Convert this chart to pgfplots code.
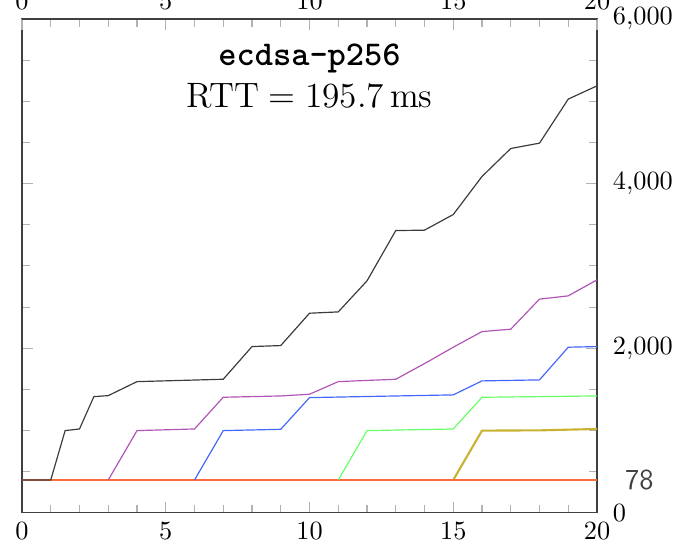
\documentclass[border=0pt]{standalone}
\usepackage{pgfplots}
\pgfplotsset{compat=1.18}
\definecolor{cblack}{HTML}{3C3C3C}
\definecolor{cpurple}{HTML}{B055B5}
\definecolor{cblue}{HTML}{4466FF}
\definecolor{cgreen}{HTML}{66FF66}
\definecolor{colive}{HTML}{C8B232}
\definecolor{cred}{HTML}{FF6A3C}
\pgfplotsset{
  common/.style={
    scale only axis, width=218.5pt, height=187.7pt,
    xmin=0, xmax=20, ymin=0, ymax=6000,
    xtick={0,5,10,15,20}, minor x tick num=4,
    major tick length=4.3pt, minor tick length=3.2pt,
    tick style={gray!60, line width=0.4pt},
    axis line style={black!75},
  }
}
\begin{document}
\begin{tikzpicture}
\begin{axis}[common, name=ax, clip mode=individual,
  ytick={0,2000,4000,6000}, minor y tick num=3,
  yticklabel pos=right,
  yticklabel style={xshift=2.5pt},
  every axis plot/.append style={line width=0.45pt},
]
\addplot[cred, line width=1.1pt] coordinates {(0,400) (20,400)};
\addplot[colive, line width=0.8pt] coordinates {(15,400) (16,1000) (18,1003) (20,1020)};
\addplot[cgreen] coordinates {(11,400) (12,1000) (15,1020) (16,1405) (20,1421)};
\addplot[cblue] coordinates {(6,400) (7,1000) (9,1016) (10,1401) (15,1434) (16,1604) (18,1616) (19,2013) (20,2021)};
\addplot[cpurple] coordinates {(3,400) (4,1000) (6,1020) (7,1405) (9,1421) (10,1442) (11,1595) (13,1624) (14,1814) (15,2013) (16,2203) (17,2232) (18,2597) (19,2637) (20,2831)};
\addplot[cblack] coordinates {(0,400) (1,400) (1.5,1000) (2,1020) (2.5,1413) (3,1425) (4,1595) (7,1624) (8,2021) (9,2033) (10,2426) (11,2442) (12,2819) (13,3430) (14,3435) (15,3625) (16,4087) (17,4427) (18,4492) (19,5027) (20,5188)};
\addplot[cred, line width=1.1pt] coordinates {(15,400) (20,400)};
\node[anchor=base, font=\ttfamily\bfseries\fontsize{13.2}{15}\selectfont] at (rel axis cs:0.5,0.906) {ecdsa-p256};
\node[anchor=base, font=\fontsize{13.4}{15}\selectfont] at (rel axis cs:0.5,0.821) {RTT\hspace{0.2778em}=\hspace{0.2778em}195.7\,ms};
\node[anchor=west, font=\sffamily\fontsize{11}{13}\selectfont, text=black!75, inner sep=0pt] at (axis cs:20,400) [xshift=10.5pt] {78};
\end{axis}
\begin{axis}[common,
  axis x line*=top, hide y axis,
]
\end{axis}
\pgfresetboundingbox
\path[use as bounding box] ([xshift=-8.36pt,yshift=-10.26pt]ax.south west) rectangle ([xshift=30.4pt,yshift=7.22pt]ax.north east);
\end{tikzpicture}
\end{document}
